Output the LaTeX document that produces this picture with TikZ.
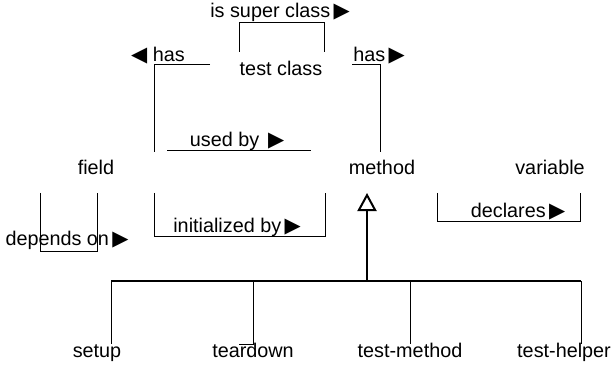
\documentclass[tikz,border=0pt]{standalone}
\usepackage{fontspec}
\setmainfont{Liberation Sans}
\newfontfamily\symfont{DejaVu Sans}
\usetikzlibrary{arrows.meta}
\newcommand{\rtri}{\,{\symfont\fontsize{10.5}{10}\selectfont ▶}}
\newcommand{\ltri}{{\symfont\fontsize{10.5}{10}\selectfont ◀}}

\begin{document}
\begin{tikzpicture}[
    x=0.5pt, y=-0.5pt,
    lbl/.style={anchor=base, inner sep=0pt, font=\fontsize{9.9}{12}\selectfont},
    rel/.style={draw, line width=0.5pt},
    isa/.style={draw, line width=1pt, -{Triangle[open, length=9pt, width=9.5pt]}}
]
\useasboundingbox (0,0) rectangle (613,368);

% classes
\node[lbl] (testclass) at (281,76) {test class};
\node[lbl] (field) at (96,175) {field};
\node[lbl] (method) at (382,175) {method};
\node[lbl] (variable) at (550,175) {variable};
\node[lbl] (setup) at (97,357) {setup};
\node[lbl] (teardown) at (253,357) {teardown};
\node[lbl] (testmethod) at (410,357) {test-method};
\node[lbl] (testhelper) at (564,357) {test-helper};

% relation labels
\node[lbl] (superlbl) at (280,18) {is super class\rtri};
\node[lbl] (hasleft) at (158,62) {\ltri\ has};
\node[lbl] (hasright) at (379,62) {has\rtri};
\node[lbl] (usedby) at (237,147) {used by \rtri};
\node[lbl] (initby) at (237,232) {initialized by\rtri};
\node[lbl] (dependson) at (67,245) {depends on\rtri};
\node[lbl] (declares) at (518,218) {declares\rtri};

% line ends
\coordinate (s1) at (239,52);
\coordinate (s2) at (324,52);
\coordinate (h1) at (210,65);
\coordinate (h2) at (154,152);
\coordinate (h3) at (352,65);
\coordinate (h4) at (380,152);
\coordinate (u1) at (167,151);
\coordinate (u2) at (311,151);
\coordinate (i1) at (154,193);
\coordinate (i2) at (325,193);
\coordinate (d1) at (40,193);
\coordinate (d2) at (97,193);
\coordinate (v1) at (437,193);
\coordinate (v2) at (580,193);
\coordinate (hub) at (367,281);
\coordinate (tip) at (367,193);

\draw[rel] (s1) -- (239,23) -- (324,23) -- (s2);
\draw[rel] (h1) -- (154,65) -- (h2);
\draw[rel] (h3) -- (380,65) -- (h4);
\draw[rel] (u1) -- (u2);
\draw[rel] (i1) -- (154,236) -- (325,236) -- (i2);
\draw[rel] (d1) -- (40,251) -- (97,251) -- (d2);
\draw[rel] (v1) -- (437,221) -- (580,221) -- (v2);

% subclasses of method
\draw[isa] (hub) -- (tip);
\draw[line width=0.7pt] (111,281) -- (581,281);
\draw[rel] (111,281) -- (111,344);
\draw[rel] (253,281) -- (253,344) -- (239,344);
\draw[rel] (410,281) -- (410,344);
\draw[rel] (581,281) -- (581,344);
\end{tikzpicture}
\end{document}
